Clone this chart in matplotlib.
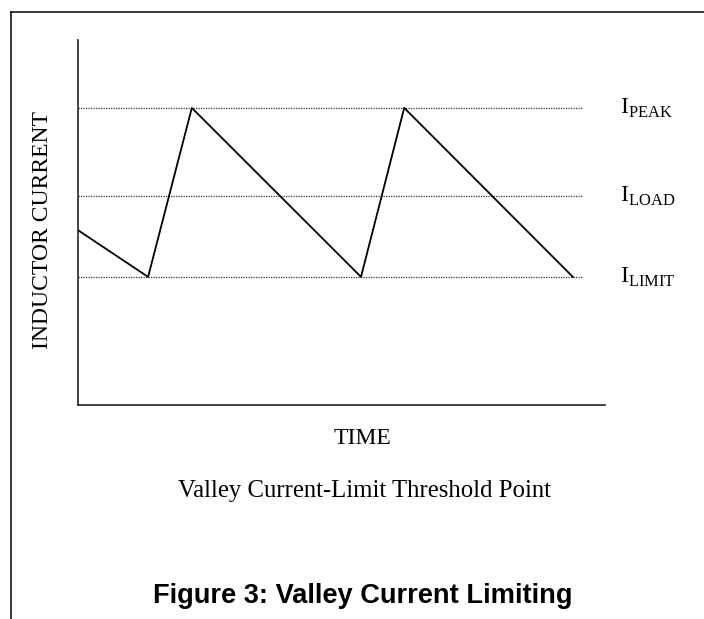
import numpy as np
import matplotlib
matplotlib.use('Agg')
import matplotlib.pyplot as plt
from matplotlib.lines import Line2D

# time / current in arbitrary units (axes run 0..100 on both)
t_points = [0, 13.3, 21.6, 53.7, 61.9, 93.9]
i_points = [47.9, 35.1, 81.4, 35.1, 81.4, 35.1]

level_names = ['PEAK', 'LOAD', 'LIMIT']
level_values = [81.4, 57.3, 35.1]
level_end = 95.6

plt.rcParams['mathtext.fontset'] = 'custom'
plt.rcParams['mathtext.rm'] = 'Liberation Serif'
serif = 'Liberation Serif'

W, H = 704, 619
fig = plt.figure(figsize=[W / 100, H / 100], dpi=100)

def fx(px):
    return px / W

def fy(py):
    return 1 - py / H

# axes box: x 78..605 px, y 40..405 px
ax = fig.add_axes([fx(78), fy(405), fx(605) - fx(78), fy(40) - fy(405)])
ax.set_xlim(0, 100)
ax.set_ylim(0, 100)
for s in ['top', 'right']:
    ax.spines[s].set_visible(False)
for s in ['left', 'bottom']:
    ax.spines[s].set_linewidth(1.2)
    ax.spines[s].set_color('#222222')
ax.set_xticks([])
ax.set_yticks([])

# threshold levels
for name, v in zip(level_names, level_values):
    ax.plot([0, level_end], [v, v], linestyle=(0, (1, 1)), color='#333333',
            linewidth=0.9)
    ax.text(102.8, v, r'$\mathrm{I}_{\mathrm{%s}}$' % name, fontsize=17,
            va='center', ha='left', clip_on=False)

# inductor current waveform
ax.plot(t_points, i_points, color='black', linewidth=1.3)

fig.text(fx(43), fy(230), 'INDUCTOR CURRENT', family=serif, fontsize=17,
         rotation=90, ha='center', va='center')
fig.text(fx(362), fy(438), 'TIME', family=serif, fontsize=17,
         ha='center', va='center')
fig.text(fx(365), fy(491), 'Valley Current-Limit Threshold Point',
         family=serif, fontsize=17.8, ha='center', va='center')
fig.text(fx(362.5), fy(603), 'Figure 3: Valley Current Limiting',
         family='Liberation Sans', fontweight='bold', fontsize=19.6,
         ha='center', va='baseline')

# page frame (top and left edges)
fig.add_artist(Line2D([fx(11), 1], [fy(11.5), fy(11.5)], color='black',
                      linewidth=1.1))
fig.add_artist(Line2D([fx(11), fx(11)], [fy(11.5), 0], color='black',
                      linewidth=1.1))

fig.savefig('out.png', dpi=100)
